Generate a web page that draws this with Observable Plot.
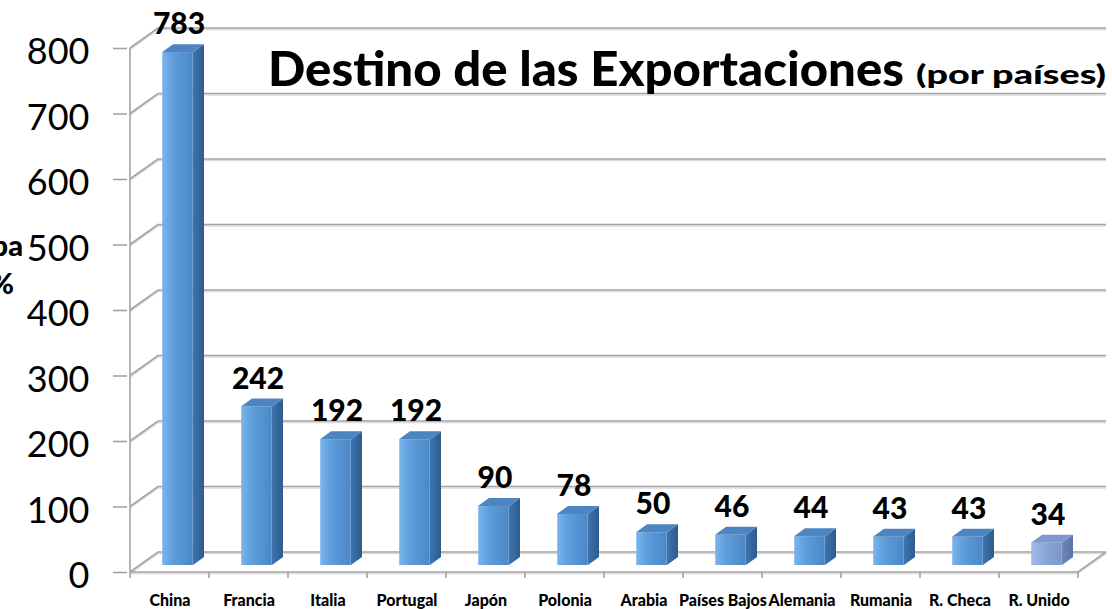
<!DOCTYPE html>
<html>
<head>
<meta charset="utf-8">
<script src="https://cdn.jsdelivr.net/npm/d3@7"></script>
<script src="https://cdn.jsdelivr.net/npm/@observablehq/plot@0.6"></script>
<style>
  html, body { margin: 0; padding: 0; background: #ffffff; }
  #wrap { position: relative; width: 1112px; height: 609px; overflow: hidden; }
</style>
</head>
<body>
<div id="wrap"></div>
<script>
// ---- data ----
const countries = ["China", "Francia", "Italia", "Portugal", "Japón", "Polonia", "Arabia", "Países Bajos", "Alemania", "Rumania", "R. Checa", "R. Unido"];
const values = [783, 242, 192, 192, 90, 78, 50, 46, 44, 43, 43, 34];
const highlighted = ["R. Unido"];
const yTicks = [0, 100, 200, 300, 400, 500, 600, 700, 800];
const titleText = "Destino de las Exportaciones";
const subtitleText = "(por países)";
const sideTextLines = ["pa", "%"];

const data = countries.map((c, i) => ({country: c, value: values[i], hi: highlighted.includes(c)}));

// ---- 3D look ----
const wallDX = 28, wallDY = -20;   // depth of back wall
const barDX = 8, barDY = -7;       // bar placement inside depth
const barW = 31;                   // bar front width
const sideDX = 11, sideDY = -8;    // bar depth
const gridColor = "#a3a3a3";

function bandInfo(x) {
  const step = x(countries[1]) - x(countries[0]);
  const start = x(countries[0]);
  return {step, start, end: start + step * countries.length};
}

function walls(index, {x, y}) {
  const g = d3.create("svg:g");
  const defs = g.append("defs");
  const mk = (id, stops) => {
    const lg = defs.append("linearGradient").attr("id", id).attr("x1", 0).attr("x2", 1).attr("y1", 0).attr("y2", 0);
    stops.forEach(([o, c]) => lg.append("stop").attr("offset", o).attr("stop-color", c));
  };
  mk("frontA", [[0, "#7cb4ec"], [0.35, "#5e9edc"], [1, "#4a87c6"]]);
  mk("frontB", [[0, "#a2bbe6"], [0.35, "#8eaadc"], [1, "#7b96c9"]]);
  mk("sideA", [[0, "#3e74ad"], [1, "#2d5b8e"]]);
  mk("sideB", [[0, "#6e86b8"], [1, "#5c72a3"]]);
  const {start, end, step} = bandInfo(x);
  const y0 = y(0);
  for (const v of yTicks) {
    const yy = y(v);
    const d = `M${start},${yy}L${start + wallDX},${yy + wallDY}L${end + wallDX},${yy + wallDY}`;
    g.append("path").attr("d", d).attr("fill", "none").attr("stroke", "#dcdcdc").attr("stroke-width", 1.4).attr("transform", "translate(0,1.6)");
    g.append("path").attr("d", d).attr("fill", "none").attr("stroke", gridColor).attr("stroke-width", 1.6);
  }
  const fd = `M${start},${y0}L${end},${y0}L${end + wallDX},${y0 + wallDY}`;
  g.append("path").attr("d", fd).attr("fill", "none").attr("stroke", "#dcdcdc").attr("stroke-width", 1.4).attr("transform", "translate(0,1.6)");
  g.append("path").attr("d", fd).attr("fill", "none").attr("stroke", gridColor).attr("stroke-width", 1.6);
  g.append("line").attr("x1", start).attr("x2", start).attr("y1", y(800)).attr("y2", y0 + 6)
    .attr("stroke", gridColor).attr("stroke-width", 1.6);
  for (let i = 1; i <= countries.length; i++) {
    const xx = start + i * step;
    g.append("line").attr("x1", xx).attr("x2", xx).attr("y1", y0).attr("y2", y0 + 6)
      .attr("stroke", gridColor).attr("stroke-width", 1.6);
  }
  return g.node();
}

function barFaces(index, {x, y}) {
  const g = d3.create("svg:g");
  const {step} = bandInfo(x);
  for (const d of data) {
    const left = x(d.country) + (step - barW) / 2 + barDX;
    const right = left + barW;
    const top = y(d.value) + barDY;
    const bottom = y(0) + barDY;
    g.append("path")
      .attr("d", `M${right},${top}L${right + sideDX},${top + sideDY}L${right + sideDX},${bottom + sideDY}L${right},${bottom}Z`)
      .attr("fill", d.hi ? "url(#sideB)" : "url(#sideA)");
    g.append("path")
      .attr("d", `M${left},${top}L${left + sideDX},${top + sideDY}L${right + sideDX},${top + sideDY}L${right},${top}Z`)
      .attr("fill", d.hi ? "#7f99cf" : "#4d84c2");
  }
  return g.node();
}

const plotW = 1112, plotH = 609;
const bandStep = (1080 - 127) / countries.length;
const inset = (bandStep - barW) / 2;

const chart = Plot.plot({
  width: plotW,
  height: plotH,
  marginLeft: 127,
  marginRight: 32,
  marginTop: 48,
  marginBottom: 37,
  style: {fontFamily: "Lato, 'Open Sans', sans-serif", background: "#ffffff", overflow: "visible", color: "#000"},
  x: {type: "band", domain: countries, padding: 0, label: null},
  y: {domain: [0, 800], label: null},
  marks: [
    walls,
    Plot.barY(data.filter(d => !d.hi), {x: "country", y: "value", dx: barDX, dy: barDY, insetLeft: inset, insetRight: inset, fill: "url(#frontA)"}),
    Plot.barY(data.filter(d => d.hi), {x: "country", y: "value", dx: barDX, dy: barDY, insetLeft: inset, insetRight: inset, fill: "url(#frontB)"}),
    barFaces,
    Plot.text(data, {x: "country", y: "value", text: d => String(d.value), dx: barDX + 1, dy: -35, fontSize: 30, fontWeight: 900, fill: "#000"}),
    Plot.axisY({ticks: yTicks, tickSize: 14, text: null, stroke: gridColor, strokeWidth: 1.6, label: null}),
    Plot.axisY({ticks: yTicks, tickSize: 0, tickPadding: 38, dy: 4, fontSize: 36, fill: "#000", label: null, tickFormat: d => String(d)}),
    Plot.axisX({tickSize: 0, tickPadding: 22, fontSize: 16, fontWeight: 900, fill: "#000", label: null})
  ]
});

document.getElementById("wrap").appendChild(chart);

// titles & cut-off side text as real SVG text
const svg = d3.select(chart);
svg.append("text").text(titleText)
  .attr("x", 268).attr("y", 86).attr("text-anchor", "start")
  .attr("font-family", "Lato, sans-serif").attr("font-weight", 900).attr("font-size", 48)
  .attr("textLength", 636).attr("lengthAdjust", "spacingAndGlyphs").attr("fill", "#000");
svg.append("text").text(subtitleText)
  .attr("x", 916).attr("y", 84).attr("text-anchor", "start")
  .attr("font-family", "Lato, sans-serif").attr("font-weight", 900).attr("font-size", 27)
  .attr("textLength", 190).attr("lengthAdjust", "spacingAndGlyphs").attr("fill", "#000");
svg.append("text").text(sideTextLines[0])
  .attr("x", 23).attr("y", 256).attr("text-anchor", "end")
  .attr("font-family", "Lato, sans-serif").attr("font-weight", 900).attr("font-size", 29).attr("fill", "#000");
svg.append("text").text(sideTextLines[1])
  .attr("x", 14).attr("y", 294).attr("text-anchor", "end")
  .attr("font-family", "Lato, sans-serif").attr("font-weight", 900).attr("font-size", 29).attr("fill", "#000");
</script>
</body>
</html>
